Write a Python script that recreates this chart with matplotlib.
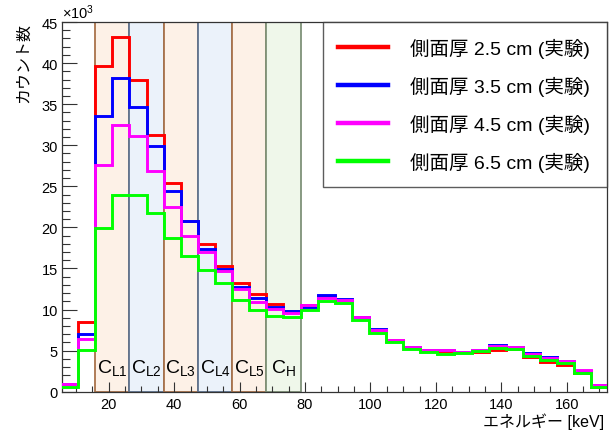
import numpy as np
import matplotlib
matplotlib.use("Agg")
import matplotlib.pyplot as plt
from matplotlib.lines import Line2D
from matplotlib.ticker import MultipleLocator

plt.rcParams['font.family'] = ['Liberation Sans', 'Noto Sans CJK JP', 'DejaVu Sans']
plt.rcParams['mathtext.fontset'] = 'custom'
plt.rcParams['mathtext.rm'] = 'Liberation Sans'
plt.rcParams['mathtext.default'] = 'regular'

# ---- data (counts in units of 10^3) ----
bin_lo = 5.4      # keV
bin_w = 5.23      # keV
n_bins = 32

labels = ['側面厚 2.5 cm (実験)', '側面厚 3.5 cm (実験)',
          '側面厚 4.5 cm (実験)', '側面厚 6.5 cm (実験)']
colors = ['#ff0000', '#0000ff', '#ff00ff', '#00ff00']

red = [0.9, 8.5, 39.7, 43.2, 38.0, 31.3, 25.4, 20.8, 18.0, 15.3, 13.2, 11.85,
       10.7, 9.85, 10.6, 11.6, 11.2, 9.1, 7.55, 6.25, 5.45, 5.05, 5.0, 4.8,
       4.8, 5.07, 5.2, 4.2, 3.65, 3.3, 2.3, 0.6]
blue = [0.9, 7.0, 33.6, 38.2, 34.7, 29.9, 24.4, 20.8, 17.4, 14.9, 12.8, 11.4,
        10.3, 9.85, 10.3, 11.8, 11.3, 9.1, 7.65, 6.2, 5.45, 5.1, 5.1, 4.85,
        5.1, 5.68, 5.45, 4.7, 4.2, 3.75, 2.5, 0.8]
magenta = [1.0, 6.4, 27.6, 32.5, 31.1, 26.9, 22.5, 19.0, 17.0, 14.7, 12.5, 10.9,
           10.1, 9.6, 10.55, 11.4, 11.2, 9.05, 7.5, 6.35, 5.45, 5.05, 5.1, 4.85,
           5.12, 5.6, 5.45, 4.6, 4.1, 3.8, 2.6, 0.85]
green = [0.6, 5.1, 19.9, 23.9, 23.9, 21.7, 18.7, 16.5, 14.8, 13.2, 11.2, 9.9,
         9.25, 9.05, 9.9, 11.0, 10.8, 8.75, 7.2, 6.0, 5.2, 4.8, 4.65, 4.75,
         4.9, 5.28, 5.2, 4.3, 3.9, 3.45, 2.25, 0.55]
series = [red, blue, magenta, green]

# regions: two bins each, given as bin-edge indices
region_names = [r'C$_{L1}$', r'C$_{L2}$', r'C$_{L3}$', r'C$_{L4}$', r'C$_{L5}$', r'C$_{H}$']
region_bins = [(2, 4), (4, 6), (6, 8), (8, 10), (10, 12), (12, 14)]
region_fill = ['#fdf1e7', '#ebf2fa', '#fdf1e7', '#ebf2fa', '#fdf1e7', '#eff7ea']
region_edge = ['#a9724a', '#5f7390', '#a9724a', '#5f7390', '#a9724a', '#7f9279']

edges = bin_lo + bin_w * np.arange(n_bins + 1)

# ---- figure ----
fig = plt.figure(figsize=(6.11, 4.31), dpi=100)
ax = fig.add_axes([0.1015, 0.0888, 0.8913, 0.8578])

for (i0, i1), fc, ec in zip(region_bins, region_fill, region_edge):
    ax.axvspan(edges[i0], edges[i1], facecolor=fc, edgecolor=ec, lw=1.3, zorder=0)

for name, (i0, i1) in zip(region_names, region_bins):
    ax.text((edges[i0] + edges[i1]) / 2, 2.4, name, ha='center', va='baseline',
            fontsize=14, zorder=5)

for vals, c in zip(series, colors):
    ax.stairs(vals, edges, baseline=None, color=c, lw=2.1, zorder=3)

ax.set_xlim(5.7, 172.2)
ax.set_ylim(0, 45)
ax.xaxis.set_major_locator(MultipleLocator(20))
ax.xaxis.set_minor_locator(MultipleLocator(5))
ax.yaxis.set_major_locator(MultipleLocator(5))
ax.yaxis.set_minor_locator(MultipleLocator(1))
ax.tick_params(axis='both', which='both', direction='in', width=0.8,
               labelsize=10.5, color='#333333')
ax.tick_params(axis='x', which='major', length=7.5, pad=3.5)
ax.tick_params(axis='x', which='minor', length=4)
ax.tick_params(axis='y', which='major', length=11, pad=3)
ax.tick_params(axis='y', which='minor', length=6)
for s in ax.spines.values():
    s.set_linewidth(0.9)
    s.set_color('#333333')

ax.text(0.0, 1.003, r'$\times$10$^{3}$', transform=ax.transAxes,
        ha='left', va='bottom', fontsize=10.5)
fig.text(0.039, 0.947, 'カウント数', rotation=90, ha='center', va='top', fontsize=11.5)
fig.text(0.989, 0.022, 'エネルギー [keV]', ha='right', va='center', fontsize=11.5)

handles = [Line2D([], [], color=c, lw=3.2) for c in colors]
leg = ax.legend(handles, labels, loc='upper left',
                bbox_to_anchor=(0.4787, 0.553, 0.5213, 0.447), mode='expand',
                borderaxespad=0, fontsize=14, frameon=True, fancybox=False,
                handlelength=2.57, handletextpad=1.1, labelspacing=0.92,
                borderpad=0.8)
leg.get_frame().set_edgecolor('#333333')
leg.get_frame().set_linewidth(1.0)
leg.set_zorder(6)

fig.savefig('out.png', dpi=100)
